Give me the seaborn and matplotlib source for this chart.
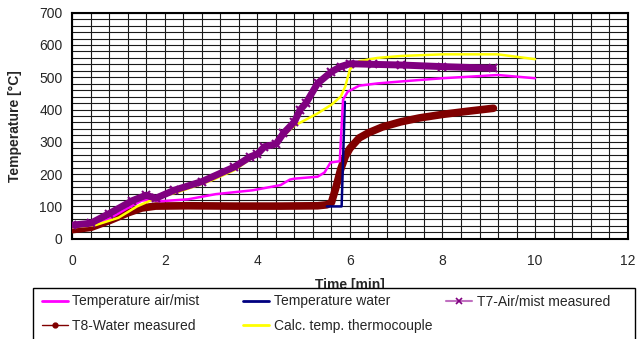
import numpy as np
import pandas as pd
import matplotlib
matplotlib.use("Agg")
import matplotlib.pyplot as plt
from matplotlib.lines import Line2D
from matplotlib.patches import Rectangle
import seaborn as sns

# ---- data ----
air_x = [0, 0.4, 0.8, 1.2, 1.5, 1.7, 1.9, 2.5, 3.1, 3.9, 4.5, 4.7, 4.8, 5.3, 5.45,
         5.58, 5.78, 5.85, 5.95, 6.2, 6.6, 7.1, 8.0, 9.2, 10.0]
air_y = [35, 42, 62, 95, 118, 121, 116, 122, 138, 150, 166, 183, 186, 192, 205,
         236, 240, 430, 455, 474, 481, 487, 497, 507, 497]

water_x = [5.5, 5.82, 5.89]
water_y = [100, 100, 424]

t7_x = [0, 0.4, 0.8, 1.3, 1.6, 1.8, 2.2, 2.8, 3.5, 3.85, 4.0, 4.15, 4.4, 4.56, 4.8,
        4.92, 5.05, 5.3, 5.6, 5.8, 6.0, 6.5, 7.1, 8.0, 9.1]
t7_y = [42, 48, 78, 118, 135, 125, 150, 177, 222, 254, 262, 285, 293, 326, 362,
        399, 420, 481, 517, 533, 542, 540, 538, 533, 528]

t8_x = [0, 0.4, 0.8, 1.2, 1.5, 1.8, 2.5, 3.5, 4.5, 5.3, 5.5, 5.6, 5.7, 5.8, 5.9,
        6.0, 6.2, 6.4, 6.7, 7.1, 7.5, 8.0, 8.5, 9.1]
t8_y = [28, 35, 56, 80, 95, 101, 102, 101, 101, 102, 105, 112, 160, 215, 255,
        280, 312, 328, 346, 362, 374, 385, 394, 404]

calc_x = [0, 0.5, 1.0, 1.4, 1.8, 2.3, 3.0, 3.5, 4.0, 4.5, 4.8, 5.3, 5.6, 5.8, 5.9,
          6.0, 6.2, 6.6, 7.1, 8.0, 9.2, 10.0]
calc_y = [35, 42, 65, 100, 125, 145, 180, 212, 262, 310, 350, 388, 415, 440, 472,
          525, 550, 560, 566, 571, 571, 556]

labels = ["Temperature air/mist", "Temperature water", "T7-Air/mist measured",
          "T8-Water measured", "Calc. temp. thermocouple"]
x_ticks = [0, 2, 4, 6, 8, 10, 12]
y_ticks = [0, 100, 200, 300, 400, 500, 600, 700]

sns.set_style("white")
plt.rcParams['font.family'] = ['Liberation Sans', 'DejaVu Sans']

W, H = 643, 339
fig = plt.figure(figsize=(W / 100, H / 100), dpi=100)
ax = fig.add_axes([72.3 / W, 1 - 238.7 / H, 555.3 / W, 226 / H])

# grid
ax.set_xticks(np.arange(0, 12.001, 0.4), minor=True)
ax.set_yticks(np.arange(0, 700.1, 20), minor=True)
ax.grid(True, which="both", color="#1a1a1a", linewidth=0.8)
ax.set_axisbelow(True)

def frame(xs, ys):
    return pd.DataFrame({"x": xs, "y": ys})

sns.lineplot(data=frame(t8_x, t8_y), x="x", y="y", ax=ax, color="#800000",
             linewidth=5.5, sort=False, zorder=3)
sns.lineplot(data=frame(water_x, water_y), x="x", y="y", ax=ax, color="#000080",
             linewidth=1.8, sort=False, zorder=4)
sns.lineplot(data=frame(air_x, air_y), x="x", y="y", ax=ax, color="#FF00FF",
             linewidth=1.8, sort=False, zorder=4)
sns.lineplot(data=frame(calc_x, calc_y), x="x", y="y", ax=ax, color="#FFFF00",
             linewidth=1.8, sort=False, zorder=4)
sns.lineplot(data=frame(t7_x, t7_y), x="x", y="y", ax=ax, color="#800080",
             linewidth=5, sort=False, zorder=5, marker="x", markersize=6,
             markeredgewidth=1.5, markeredgecolor="#800080")

ax.set_xlim(0, 12)
ax.set_ylim(0, 700)
ax.set_xticks(x_ticks)
ax.set_yticks(y_ticks)
ax.tick_params(axis="both", which="major", direction="out", length=5, width=1,
               color="black", labelsize=10, pad=2)
ax.tick_params(axis="both", which="minor", length=0)
ax.tick_params(axis="x", pad=6)
for s in ax.spines.values():
    s.set_color("black")
    s.set_linewidth(1.5)

ax.set_xlabel("Time [min]", fontsize=10, fontweight="bold")
ax.set_ylabel("Temperature [°C]", fontsize=10, fontweight="bold")
ax.xaxis.set_label_coords(0.5, (238.7 - 277.5) / 226)
ax.yaxis.set_label_coords((22 - 72.3) / 555.3, 0.5)

# legend frame (white box, overlapping the bottom of the x label like the reference)
box = Rectangle((33.3 / W, -0.05), (635 - 33.3) / W, (1 - 287.5 / H) + 0.05,
                transform=fig.transFigure, facecolor="white", edgecolor="black",
                linewidth=1.0, zorder=3)
fig.add_artist(box)

h_air = Line2D([], [], color="#FF00FF", lw=2)
h_water = Line2D([], [], color="#000080", lw=2)
h_t7 = Line2D([], [], color="#C070C0", lw=1.5, marker="x", markersize=4,
              markeredgecolor="#800080", markeredgewidth=1.2)
h_t8 = Line2D([], [], color="#800000", lw=1, marker="o", markersize=3.5,
              markerfacecolor="#800000", markeredgecolor="#800000")
h_calc = Line2D([], [], color="#FFFF00", lw=2)

columns = [
    (41.7, [h_air, h_t8], [labels[0], labels[3]]),
    (243.0, [h_water, h_calc], [labels[1], labels[4]]),
    (446.0, [h_t7], [labels[2]]),
]
for x0, hs, ls in columns:
    lg = fig.legend(hs, ls, loc="upper left", bbox_to_anchor=(x0 / W, 1 - 294.5 / H),
                    frameon=False, fontsize=10, handlelength=1.9,
                    handletextpad=0.3, labelspacing=0.78, borderpad=0,
                    borderaxespad=0)
    lg.set_zorder(6)

fig.savefig("out.png", dpi=100)
